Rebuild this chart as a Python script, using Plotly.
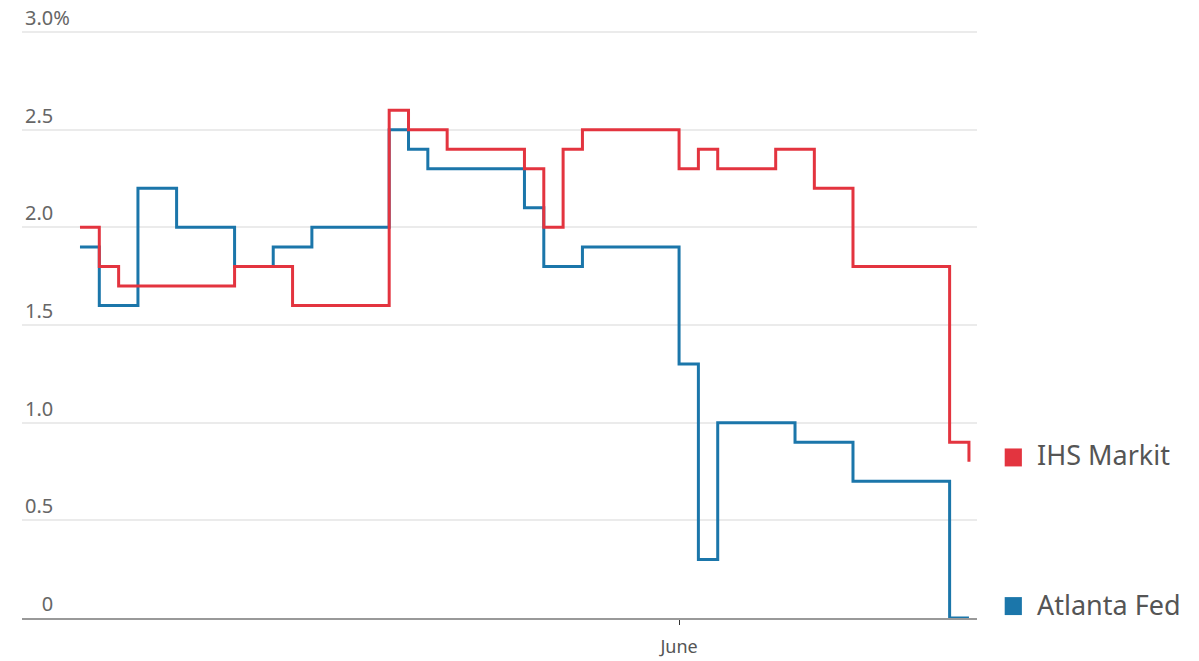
import plotly.graph_objects as go

# IHS Markit nowcast (change points, one-decimal values)
ihs_dates = ["2022-05-01", "2022-05-02", "2022-05-03", "2022-05-09", "2022-05-12",
             "2022-05-17", "2022-05-18", "2022-05-20", "2022-05-24", "2022-05-25",
             "2022-05-26", "2022-05-27", "2022-06-01", "2022-06-02", "2022-06-03",
             "2022-06-06", "2022-06-08", "2022-06-10", "2022-06-15", "2022-06-16"]
ihs_values = [2.0, 1.8, 1.7, 1.8, 1.6,
              2.6, 2.5, 2.4, 2.3, 2.0,
              2.4, 2.5, 2.3, 2.4, 2.3,
              2.4, 2.2, 1.8, 0.9, 0.8]

# Atlanta Fed GDPNow (change points)
atl_dates = ["2022-05-01", "2022-05-02", "2022-05-04", "2022-05-06", "2022-05-09",
             "2022-05-11", "2022-05-13", "2022-05-17", "2022-05-18", "2022-05-19",
             "2022-05-24", "2022-05-25", "2022-05-27", "2022-06-01", "2022-06-02",
             "2022-06-03", "2022-06-07", "2022-06-10", "2022-06-15", "2022-06-16"]
atl_values = [1.9, 1.6, 2.2, 2.0, 1.8,
              1.9, 2.0, 2.5, 2.4, 2.3,
              2.1, 1.8, 1.9, 1.3, 0.3,
              1.0, 0.9, 0.7, 0.0, 0.0]

y_tickvals = [0, 0.5, 1.0, 1.5, 2.0, 2.5, 3.0]
y_ticktext = ["\u2007\u20080", "0.5", "1.0", "1.5", "2.0", "2.5", "3.0%"]
x_tickvals = ["2022-06-01"]
x_ticktext = ["June"]

series_names = ["IHS Markit", "Atlanta Fed"]
RED = "#e3343f"
BLUE = "#1b76aa"

fig = go.Figure()
fig.add_trace(go.Scatter(x=atl_dates, y=atl_values, mode="lines", line_shape="hv",
                         line=dict(color=BLUE, width=3), name=series_names[1],
                         showlegend=False))
fig.add_trace(go.Scatter(x=ihs_dates, y=ihs_values, mode="lines", line_shape="hv",
                         line=dict(color=RED, width=3), name=series_names[0],
                         showlegend=False))

# legend labels placed next to line ends
legend_sq_y = [0.822, 0.061]
legend_txt_y = [0.835, 0.067]
legend_colors = [RED, BLUE]
for name, sy, ty, col in zip(series_names, legend_sq_y, legend_txt_y, legend_colors):
    fig.add_shape(type="rect", xref="paper", yref="y",
                  x0=1.029, x1=1.047, y0=sy - 0.046, y1=sy + 0.046,
                  fillcolor=col, line=dict(width=0))
    fig.add_annotation(x=1.061, y=ty, xref="paper", yref="y", text=name,
                       showarrow=False, xanchor="left", yanchor="middle",
                       font=dict(size=27, color="#555555", family="Noto Sans"))

fig.update_layout(
    width=1199, height=661,
    margin=dict(l=22, r=222, t=0, b=43, autoexpand=False),
    plot_bgcolor="white", paper_bgcolor="white",
    font=dict(family="Noto Sans", color="#666666"),
)
fig.update_xaxes(
    type="date", range=["2022-04-28", "2022-06-16 10:00"],
    tickvals=x_tickvals, ticktext=x_ticktext,
    ticks="outside", ticklen=5, tickcolor="#333333", tickwidth=1,
    ticklabelstandoff=6, automargin=False,
    tickfont=dict(size=18, color="#555555"),
    showgrid=False, showline=True, linecolor="#999999", linewidth=2,
    zeroline=False,
)
fig.update_yaxes(
    range=[0, 3.164], tickvals=y_tickvals, ticktext=y_ticktext,
    ticklabelposition="inside top", ticks="", automargin=False,
    tickfont=dict(size=20, color="#666666"),
    showgrid=True, gridcolor="#ebebeb", gridwidth=2,
    zeroline=False, showline=False,
)

fig.write_html("out.html")
